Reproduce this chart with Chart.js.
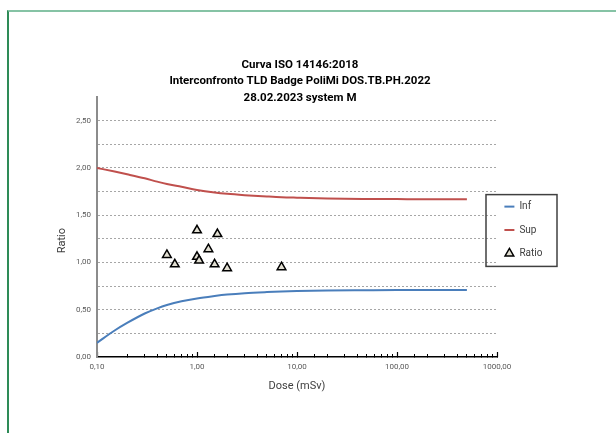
<!DOCTYPE html>
<html>
<head>
<meta charset="utf-8">
<script src="https://cdn.jsdelivr.net/npm/chart.js@4.4.1/dist/chart.umd.min.js"></script>
<style>
  html, body { margin: 0; padding: 0; background: #fff; overflow: hidden; }
  #frame {
    position: absolute; left: 7px; top: 10px; width: 800px; height: 600px;
    border-top: 2px solid #86c3a5; border-left: 2px solid #2e8b57;
  }
  #wrap { position: absolute; left: 0; top: 0; width: 616px; height: 433px; }
</style>
</head>
<body>
<div id="frame"></div>
<div id="wrap"><canvas id="isoChart" width="616" height="433"></canvas></div>
<script>
// Curve limits (ISO 14146 trumpet)
const curveDose = [0.1, 0.15, 0.2, 0.3, 0.4, 0.5, 0.7, 1, 1.5, 2, 3, 5, 7, 10, 20, 50, 100, 200, 500];
const infValues = [0.15, 0.28, 0.36, 0.46, 0.515, 0.55, 0.59, 0.62, 0.645, 0.66, 0.675, 0.687, 0.693, 0.698, 0.703, 0.706, 0.708, 0.709, 0.71];
const supValues = [2.00, 1.962, 1.933, 1.89, 1.855, 1.83, 1.80, 1.767, 1.74, 1.726, 1.712, 1.698, 1.69, 1.685, 1.677, 1.672, 1.67, 1.668, 1.668];

// Measured ratios
const ratioDose = [0.5, 0.6, 1.0, 1.0, 1.05, 1.3, 1.5, 1.6, 2.0, 7.0];
const ratioValues = [1.08, 0.98, 1.34, 1.06, 1.02, 1.14, 0.98, 1.30, 0.94, 0.95];

const titleLines = ['Curva ISO 14146:2018', 'Interconfronto TLD Badge PoliMi DOS.TB.PH.2022', '28.02.2023 system M'];

const isDecade = v => Math.abs(Math.log10(v) - Math.round(Math.log10(v))) < 1e-6;
const comma = v => v.toFixed(2).replace('.', ',');

const toPoints = (xs, ys) => xs.map((x, i) => ({ x: x, y: ys[i] }));

// legend is nudged and boxed like the spreadsheet one
const legendFrame = {
    id: 'legendFrame',
    afterUpdate(chart) {
        const lg = chart.legend;
        lg.left -= 6;
        lg.right = lg.left + 80;
        lg.width = 80;
        lg.top += 3;
        lg.bottom += 3;
        lg.adjustHitBoxes();
    },
    afterDraw(chart) {
        const hb = chart.legend.legendHitBoxes;
        if (!hb.length) return;
        const ctx = chart.ctx;
        const x = chart.chartArea.right - 11;
        const top = hb[0].top - 7;
        const last = hb[hb.length - 1];
        const bottom = last.top + last.height + 8;
        ctx.save();
        ctx.strokeStyle = '#404040';
        ctx.lineWidth = 1.5;
        ctx.strokeRect(x, top, 71, bottom - top);
        ctx.restore();
    }
};

const ctx = document.getElementById('isoChart').getContext('2d');

new Chart(ctx, {
    type: 'scatter',
    data: {
        datasets: [{
            label: 'Inf',
            data: toPoints(curveDose, infValues),
            showLine: true,
            borderColor: '#4a7ebb',
            borderWidth: 2,
            pointRadius: 0,
            pointStyle: 'line',
            pointBorderColor: '#4a7ebb',
            pointBorderWidth: 2,
            cubicInterpolationMode: 'monotone'
        }, {
            label: 'Sup',
            data: toPoints(curveDose, supValues),
            showLine: true,
            borderColor: '#c0504d',
            borderWidth: 2,
            pointRadius: 0,
            pointStyle: 'line',
            pointBorderColor: '#c0504d',
            pointBorderWidth: 2,
            cubicInterpolationMode: 'monotone'
        }, {
            label: 'Ratio',
            data: toPoints(ratioDose, ratioValues),
            pointStyle: 'triangle',
            pointRadius: 5,
            pointBackgroundColor: '#e2dfd2',
            pointBorderColor: '#000',
            pointBorderWidth: 1.5
        }]
    },
    options: {
        responsive: false,
        animation: false,
        devicePixelRatio: 1,
        layout: {
            padding: { top: 0, bottom: 0, left: 53, right: 69 }
        },
        scales: {
            x2: {
                type: 'logarithmic',
                position: 'bottom',
                weight: 0,
                min: 0.1,
                max: 1000,
                afterBuildTicks: s => { s.ticks = s.ticks.filter(t => isDecade(t.value)); },
                afterFit: s => { s.height = 0; },
                border: { display: false },
                grid: { drawOnChartArea: false, tickLength: -5, tickColor: '#000', tickWidth: 1.2 },
                ticks: { display: false }
            },
            x: {
                type: 'logarithmic',
                position: 'bottom',
                weight: 1,
                min: 0.1,
                max: 1000,
                afterFit: s => { s.height = 76; },
                border: { color: '#000', width: 1.5 },
                grid: { drawOnChartArea: false, tickLength: -3, tickColor: '#000', tickWidth: 1 },
                ticks: {
                    autoSkip: false,
                    maxRotation: 0,
                    padding: 8,
                    color: '#595959',
                    font: { size: 8, family: 'Roboto' },
                    callback: v => isDecade(v) ? comma(v) : ''
                },
                title: {
                    display: true,
                    text: 'Dose (mSv)',
                    color: '#404040',
                    font: { size: 11, family: 'Roboto' },
                    padding: { top: 0, bottom: 40 }
                }
            },
            y: {
                min: 0,
                max: 2.75,
                afterFit: s => { s.width = 44; },
                border: { color: '#8c8c8c', width: 2, dash: [2, 2] },
                grid: {
                    drawTicks: false,
                    lineWidth: 1,
                    color: c => (c.tick.value > 2.7 || c.tick.value === 0) ? 'rgba(0,0,0,0)' : '#a6a6a6'
                },
                ticks: {
                    stepSize: 0.25,
                    autoSkip: false,
                    padding: 6,
                    color: '#595959',
                    font: { size: 8, family: 'Roboto' },
                    callback: v => (Math.abs(v * 2 - Math.round(v * 2)) < 1e-6 && v < 2.7) ? comma(v) : ''
                },
                title: {
                    display: true,
                    text: 'Ratio' + '\u00a0'.repeat(10),
                    color: '#404040',
                    font: { size: 11, family: 'Roboto' },
                    padding: { top: 3, bottom: 0 }
                }
            }
        },
        plugins: {
            title: {
                display: true,
                text: titleLines,
                color: '#000',
                font: { size: 11.5, weight: 'bold', family: 'Roboto', lineHeight: 1.45 },
                padding: { top: 56.5, bottom: -9.5 }
            },
            legend: {
                position: 'right',
                fullSize: false,
                maxWidth: 50,
                labels: {
                    usePointStyle: true,
                    pointStyleWidth: 10,
                    boxHeight: 7,
                    padding: 13.4,
                    color: '#404040',
                    font: { size: 10, family: 'Roboto' }
                }
            },
            tooltip: { enabled: false }
        }
    },
    plugins: [legendFrame]
});
</script>
</body>
</html>
